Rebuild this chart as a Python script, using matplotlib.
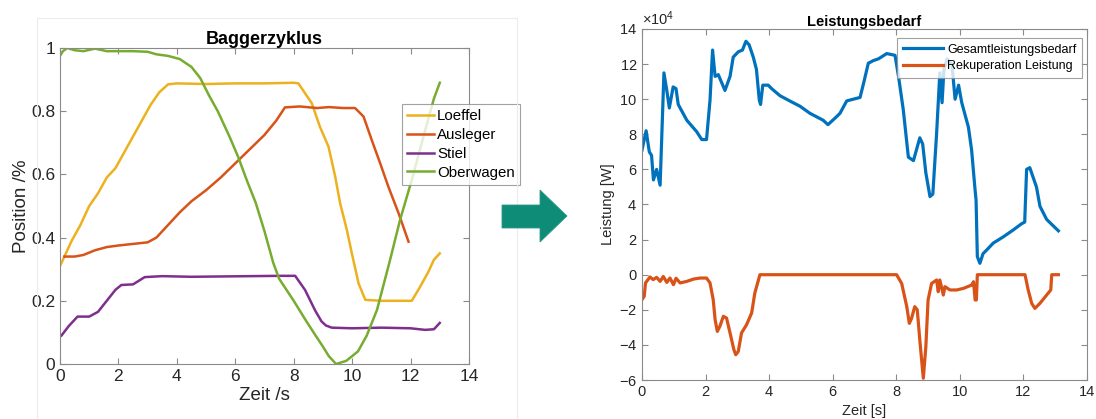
import numpy as np
import matplotlib
matplotlib.use("Agg")
import matplotlib.pyplot as plt
from matplotlib.patches import Polygon, Rectangle
from matplotlib.ticker import ScalarFormatter

plt.rcParams['font.family'] = ['Liberation Sans', 'DejaVu Sans']
plt.rcParams['mathtext.fontset'] = 'custom'
plt.rcParams['mathtext.rm'] = 'Liberation Sans'
plt.rcParams['axes.unicode_minus'] = False

# MATLAB default colours
C_BLUE = '#0072BD'
C_RED = '#D95319'
C_YELLOW = '#EDB120'
C_PURPLE = '#7E2F8E'
C_GREEN = '#77AC30'
C_TEXT = '#262626'
C_AXIS = '#8a8a8a'

# =========================
# Baggerzyklus (Position)
# =========================
loeffel_t = [0, 0.2, 0.4, 0.7, 1.0, 1.3, 1.6, 1.9, 2.2, 2.5, 2.8, 3.1, 3.4, 3.7, 4.0,
             5.0, 6.0, 7.0, 8.0, 8.16, 8.62, 8.9, 9.19, 9.42, 9.59, 9.82, 9.99, 10.22,
             10.45, 11.0, 11.5, 12.04, 12.3, 12.6, 12.8, 13.0]
loeffel = [0.31, 0.35, 0.39, 0.44, 0.50, 0.54, 0.59, 0.62, 0.67, 0.72, 0.77, 0.82, 0.86,
           0.885, 0.888, 0.886, 0.888, 0.888, 0.89, 0.888, 0.825, 0.75, 0.688, 0.593,
           0.508, 0.424, 0.35, 0.255, 0.203, 0.20, 0.20, 0.20, 0.24, 0.29, 0.33, 0.35]

ausleger_t = [0.15, 0.5, 0.8, 1.2, 1.6, 2.0, 2.5, 3.0, 3.3, 3.7, 4.1, 4.5, 5.0, 5.5, 6.0,
              6.5, 7.0, 7.4, 7.7, 8.2, 8.8, 9.2, 9.7, 10.1, 10.39, 10.67, 10.96, 11.24,
              11.59, 11.93]
ausleger = [0.34, 0.34, 0.345, 0.36, 0.37, 0.375, 0.38, 0.385, 0.40, 0.44, 0.48, 0.515,
            0.55, 0.59, 0.635, 0.68, 0.725, 0.77, 0.812, 0.815, 0.81, 0.813, 0.81, 0.81,
            0.783, 0.709, 0.635, 0.561, 0.477, 0.387]

stiel_t = [0.05, 0.3, 0.6, 1.0, 1.3, 1.6, 1.9, 2.1, 2.5, 2.9, 3.5, 4.5, 5.5, 6.5, 7.5,
           8.05, 8.39, 8.73, 8.95, 9.1, 9.3, 10.0, 11.0, 12.0, 12.5, 12.8, 13.0]
stiel = [0.09, 0.12, 0.15, 0.15, 0.165, 0.20, 0.235, 0.25, 0.252, 0.275, 0.278, 0.276,
         0.277, 0.278, 0.279, 0.279, 0.234, 0.17, 0.135, 0.122, 0.115, 0.113, 0.115, 0.113,
         0.108, 0.11, 0.13]

oberwagen_t = [0, 0.1, 0.25, 0.5, 0.8, 1.2, 1.6, 2.0, 2.5, 3.0, 3.3, 3.7, 4.1, 4.5, 4.8,
               5.1, 5.4, 5.8, 6.1, 6.4, 6.7, 7.0, 7.3, 7.5, 8.0, 8.4, 8.7, 9.0, 9.2, 9.45,
               9.8, 10.2, 10.5, 10.85, 11.3, 11.64, 12.04, 12.5, 12.8, 13.0]
oberwagen = [0.975, 0.99, 1.0, 0.993, 0.99, 0.998, 0.99, 0.99, 0.99, 0.988, 0.98, 0.975,
             0.965, 0.94, 0.905, 0.85, 0.80, 0.72, 0.655, 0.58, 0.51, 0.42, 0.32, 0.27,
             0.20, 0.14, 0.097, 0.055, 0.025, 0.0, 0.01, 0.04, 0.09, 0.171, 0.33, 0.456,
             0.582, 0.74, 0.84, 0.89]

# =========================
# Leistungsbedarf (in 1e4 W)
# =========================
gesamt_t = [0, 0.13, 0.23, 0.3, 0.36, 0.46, 0.57, 0.69, 0.78, 0.86,
            0.98, 1.07, 1.14, 1.41, 1.72, 1.88, 2.03, 2.14, 2.22, 2.3,
            2.4, 2.47, 2.61, 2.77, 2.87, 3.03, 3.16, 3.27, 3.37, 3.5,
            3.6, 3.69, 3.73, 3.8, 3.97, 4.08, 4.34, 4.65, 4.97, 5.28,
            5.7, 5.85, 6.12, 6.23, 6.44, 6.54, 6.86, 6.97, 7.12, 7.28,
            7.44, 7.7, 7.96, 8.07, 8.22, 8.38, 8.54, 8.74, 8.83, 8.93,
            9.06, 9.15, 9.27, 9.37, 9.44, 9.5, 9.6, 9.75, 9.85, 9.96,
            10.06, 10.27, 10.37, 10.48, 10.51, 10.55, 10.63, 10.73, 10.84, 11.05,
            11.36, 11.68, 11.94, 12.04, 12.1, 12.2, 12.41, 12.52, 12.73, 13.1]
gesamt = [7.1, 8.2, 7.0, 6.8, 5.4, 6.0, 5.1, 11.5, 10.5, 9.5,
          10.7, 10.6, 9.7, 8.8, 8.15, 7.7, 7.7, 9.95, 12.8, 11.3,
          11.4, 11.1, 10.5, 11.3, 12.4, 12.7, 12.8, 13.3, 13.1, 12.4,
          11.7, 9.95, 9.7, 10.8, 10.8, 10.6, 10.2, 9.9, 9.6, 9.2,
          8.8, 8.55, 9.0, 9.2, 9.9, 9.95, 10.1, 10.9, 12.05, 12.2,
          12.3, 12.6, 12.5, 11.3, 9.4, 6.7, 6.5, 7.8, 7.45, 5.8,
          4.45, 4.6, 8.1, 11.5, 9.8, 11.7, 12.3, 12.0, 10.0, 10.8,
          9.8, 8.4, 7.1, 4.8, 4.26, 1.03, 0.65, 1.2, 1.4, 1.8,
          2.15, 2.55, 2.9, 3.0, 6.0, 6.1, 5.0, 3.9, 3.15, 2.5]

rekup_t = [0, 0.07, 0.11, 0.25, 0.35, 0.46, 0.57, 0.67, 0.78, 0.88,
           0.99, 1.07, 1.2, 1.41, 1.62, 1.83, 2.03, 2.14, 2.24, 2.3,
           2.37, 2.45, 2.56, 2.66, 2.77, 2.89, 2.95, 3.03, 3.13, 3.29,
           3.45, 3.55, 3.71, 8.01, 8.17, 8.33, 8.41, 8.48, 8.58, 8.66,
           8.74, 8.85, 8.93, 9.0, 9.11, 9.27, 9.32, 9.37, 9.48, 9.53,
           9.69, 9.9, 10.11, 10.37, 10.43, 10.48, 10.52, 10.55, 12.05, 12.15,
           12.26, 12.36, 12.52, 12.73, 12.86, 12.89, 13.1]
rekup = [-1.42, -1.23, -0.47, -0.13, -0.28, -0.15, -0.38, -0.1, -0.44, -0.19,
         -0.57, -0.2, -0.47, -0.38, -0.25, -0.19, -0.19, -0.47, -1.42, -2.56,
         -3.23, -2.94, -2.37, -2.47, -3.32, -4.27, -4.56, -4.37, -3.32, -2.85,
         -2.18, -1.04, 0, 0, -0.5, -1.82, -2.77, -2.49, -1.82, -2.0,
         -3.72, -5.9, -4.1, -1.44, -0.5, -0.3, -0.97, -0.3, -1.16, -0.68,
         -0.87, -0.87, -0.78, -0.59, -0.4, -1.44, -1.44, 0, 0, -0.87,
         -1.63, -1.92, -1.63, -1.16, -0.87, 0, 0]
W_SCALE = 1e4

W, H = 1096, 419
fig = plt.figure(figsize=(W / 100, H / 100), dpi=100)


def style_axes(ax, fs):
    for s in ax.spines.values():
        s.set_color(C_AXIS)
        s.set_linewidth(0.8)
    ax.tick_params(direction='in', top=True, right=True, length=4,
                   color=C_AXIS, labelcolor=C_TEXT, labelsize=fs, width=0.8)


# ---- left panel ----
ax1 = fig.add_axes([60 / W, 1 - 364 / H, 409 / W, 316 / H])
ax1.plot(loeffel_t, loeffel, color=C_YELLOW, lw=1.8, label='Loeffel')
ax1.plot(ausleger_t, ausleger, color=C_RED, lw=1.8, label='Ausleger')
ax1.plot(stiel_t, stiel, color=C_PURPLE, lw=1.8, label='Stiel')
ax1.plot(oberwagen_t, oberwagen, color=C_GREEN, lw=1.8, label='Oberwagen')
ax1.set_xlim(0, 14)
ax1.set_ylim(0, 1)
ax1.set_xticks(np.arange(0, 15, 2))
ax1.set_yticks([0, 0.2, 0.4, 0.6, 0.8, 1])
ax1.set_yticklabels(['0', '0.2', '0.4', '0.6', '0.8', '1'])
style_axes(ax1, 12.5)
ax1.set_xlabel('Zeit /s', fontsize=13.5, color=C_TEXT, labelpad=2)
ax1.set_ylabel('Position /%', fontsize=13.5, color=C_TEXT, labelpad=1)
ax1.set_title('Baggerzyklus', fontsize=13, fontweight='bold', pad=3)
leg1 = ax1.legend(loc='upper left', bbox_to_anchor=(402 / W, 1 - 104 / H),
                  bbox_transform=fig.transFigure, fontsize=10.8, frameon=True,
                  fancybox=False, handlelength=1.75, handletextpad=0.25,
                  borderpad=0.35, labelspacing=0.32, borderaxespad=0)
leg1.get_frame().set_edgecolor(C_AXIS)
leg1.get_frame().set_linewidth(0.8)

# faint frame of the left panel
fig.add_artist(Rectangle((37 / W, -0.05), (517 - 37) / W, 1 - 18 / H + 0.05,
                         transform=fig.transFigure, fill=False,
                         edgecolor='#ececec', lw=0.8))

# ---- arrow ----
arrow_px = [(502, 205), (540, 205), (540, 190), (567, 216), (540, 242), (540, 228), (502, 228)]
fig.add_artist(Polygon([(x / W, 1 - y / H) for x, y in arrow_px], closed=True,
                       transform=fig.transFigure, facecolor='#0e8c78',
                       edgecolor='#2a9c86', lw=0.6))

# ---- right panel ----
ax2 = fig.add_axes([642 / W, 1 - 380 / H, 445 / W, 351 / H])
ax2.plot(gesamt_t, np.array(gesamt) * W_SCALE, color=C_BLUE, lw=2.3,
         label='Gesamtleistungsbedarf')
ax2.plot(rekup_t, np.array(rekup) * W_SCALE, color=C_RED, lw=2.3,
         label='Rekuperation Leistung')
ax2.set_xlim(0, 14)
ax2.set_ylim(-6e4, 14e4)
ax2.set_xticks(np.arange(0, 15, 2))
ax2.set_yticks(np.arange(-6e4, 14.1e4, 2e4))
fmt = ScalarFormatter(useMathText=True)
fmt.set_powerlimits((4, 4))
ax2.yaxis.set_major_formatter(fmt)
style_axes(ax2, 10.5)
ax2.yaxis.get_offset_text().set_fontsize(10.5)
ax2.yaxis.get_offset_text().set_color(C_TEXT)
ax2.set_xlabel('Zeit [s]', fontsize=10.5, color=C_TEXT, labelpad=4)
ax2.set_ylabel('Leistung [W]', fontsize=10.5, color=C_TEXT, labelpad=3)
ax2.set_title('Leistungsbedarf', fontsize=10.5, fontweight='bold', pad=2)
leg2 = ax2.legend(loc='upper left', bbox_to_anchor=(897 / W, 1 - 38 / H),
                  bbox_transform=fig.transFigure, fontsize=9, frameon=True,
                  fancybox=False, handlelength=3.2, handletextpad=0.35,
                  borderpad=0.45, labelspacing=0.35, borderaxespad=0)
leg2.get_frame().set_edgecolor(C_AXIS)
leg2.get_frame().set_linewidth(0.8)

fig.savefig('out.png', dpi=100)
